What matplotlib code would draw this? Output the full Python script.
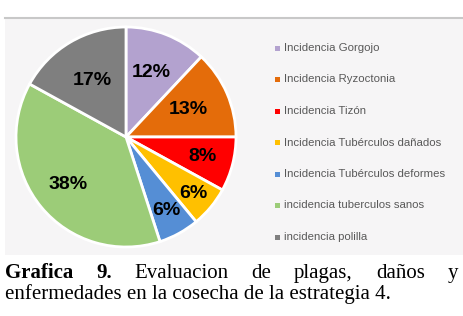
import numpy as np
import matplotlib.pyplot as plt
from matplotlib.patches import Rectangle

# data
labels = ['Incidencia Gorgojo', 'Incidencia Ryzoctonia', 'Incidencia Tizón',
          'Incidencia Tubérculos dañados', 'Incidencia Tubérculos deformes',
          'incidencia tuberculos sanos', 'incidencia polilla']
values = [12, 13, 8, 6, 6, 38, 17]
colors = ['#b3a2cf', '#e46c0a', '#ff0000', '#ffc000', '#558ed5', '#9ccc78', '#7f7f7f']

caption_bold = ['Grafica', '9.']
caption_line1 = ['Evaluacion', 'de', 'plagas,', 'daños', 'y']
caption_line2 = 'enfermedades en la cosecha de la estrategia 4.'

# how far out each percentage label sits (fraction of radius), like excel's best fit
label_dist = [0.63, 0.62, 0.72, 0.8, 0.76, 0.68, 0.6]

W, H = 464, 316
fig = plt.figure(figsize=(W / 100, H / 100), dpi=100)

# chart background panel
bg = fig.add_axes([0, 0, 1, 1])
bg.set_xlim(0, W)
bg.set_ylim(H, 0)
bg.axis('off')
bg.add_patch(Rectangle((5, 17), W - 5, 238, facecolor='#f6f5f6', edgecolor='none'))
bg.plot([5, W], [17.5, 17.5], color='#c8c8c8', lw=1.5)

# pie
cx, cy, r = 126, 137, 110
ax = fig.add_axes([(cx - r) / W, 1 - (cy + r) / H, 2 * r / W, 2 * r / H])
wedges, texts, autotexts = ax.pie(
    values, colors=colors, startangle=90, counterclock=False,
    autopct='%d%%', pctdistance=0.65,
    wedgeprops=dict(edgecolor='white', linewidth=2),
    textprops=dict(fontsize=14, fontweight='bold', color='black', family='Liberation Sans'))
for w, t, d in zip(wedges, autotexts, label_dist):
    ang = np.deg2rad((w.theta1 + w.theta2) / 2)
    t.set_position((d * np.cos(ang), d * np.sin(ang)))
ax.set_xlim(-1, 1)
ax.set_ylim(-1, 1)
ax.set_aspect('auto')

# legend
for i, (lab, col) in enumerate(zip(labels, colors)):
    y = 48 + i * 31.5
    bg.add_patch(Rectangle((275, y - 2.5), 5, 5, facecolor=col, edgecolor='none'))
    bg.text(284, y, lab, fontsize=8.2, color='#595959', va='center', ha='left',
            family='Liberation Sans')

# caption, first line justified
fig.canvas.draw()
renderer = fig.canvas.get_renderer()
fs = 15
words = [(w, 'bold') for w in caption_bold] + [(w, 'normal') for w in caption_line1]
objs = []
for w, wt in words:
    t = bg.text(0, 278, w, fontsize=fs, fontweight=wt, family='Liberation Serif',
                va='baseline', ha='left', color='black')
    objs.append(t)
widths = [t.get_window_extent(renderer).width for t in objs]
x0, x1 = 5, 458
gap = (x1 - x0 - sum(widths)) / (len(objs) - 1)
x = x0
for t, wd in zip(objs, widths):
    t.set_x(x)
    x += wd + gap

bg.text(5, 299, caption_line2, fontsize=fs, family='Liberation Serif',
        va='baseline', ha='left', color='black')

fig.savefig('out.png', dpi=100)
